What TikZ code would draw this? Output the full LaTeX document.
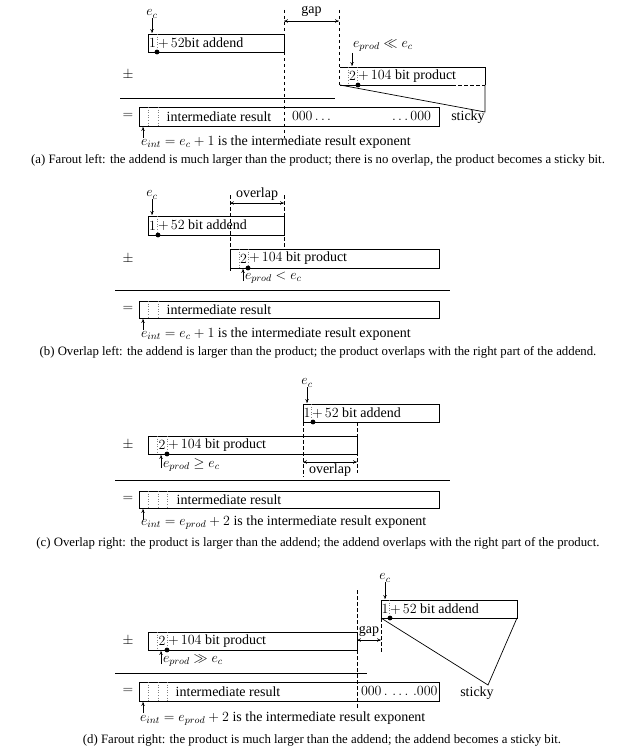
\RequirePackage{fix-cm}
\documentclass[tikz,border=0pt]{standalone}
\usepackage{fontspec}
\setmainfont{Liberation Serif}
\usetikzlibrary{arrows.meta}
\begin{document}
\begin{tikzpicture}[x=1pt,y=-1pt,
  box/.style={draw,line width=0.7pt},
  dsh/.style={line width=0.6pt,dash pattern=on 3.5pt off 2.5pt},
  dotl/.style={draw=gray,line width=0.6pt,dotted},
  arr/.style={-{To[length=4pt,width=3.5pt]},line width=0.6pt},
  dim/.style={{To[length=4pt,width=3.5pt]}-{To[length=4pt,width=3.5pt]},line width=0.6pt},
  txt/.style={inner sep=0pt,outer sep=0pt,font=\fontsize{14}{16}\selectfont},
  captxt/.style={inner sep=0pt,outer sep=0pt,font=\fontsize{12.8}{15}\selectfont},
  blob/.style={circle,fill=black,inner sep=0pt,minimum size=4.8pt},
  rule/.style={line width=0.8pt}]
\useasboundingbox (0,0) rectangle (637,754);

% ================= (a) =================
\coordinate (aA1) at (148,34); \coordinate (aA2) at (284,52);
\draw[box] (aA1) rectangle (aA2);
\draw[dotl] (157,34) -- (157,52);
\node[txt] at (152.5,43) {$1$};
\node[txt,anchor=west] at (158,43) {$+\,52$bit addend};
\node[blob] (adA) at (157,52) {};
\node[txt] (ecA) at (152,14) {$e_c$};
\coordinate (ecAt) at (152,33);
\draw[arr] (ecA) -- (ecAt);
% gap
\draw[dsh] (284,10) -- (284,138);
\draw[dsh] (339,10) -- (339,85);
\coordinate (gA1) at (284,21); \coordinate (gA2) at (339,21);
\draw[dim] (gA1) -- (gA2);
\node[txt] at (311.5,11) {gap};
% product
\draw[box] (340,67) -- (485,67) -- (485,85);
\draw[box] (340,85) -- (452,85);
\draw[dsh] (452,85) -- (485,85);
\draw[dotl] (348,67) -- (348,85);
\draw[dotl] (357,67) -- (357,85);
\node[txt] at (352.5,76) {$2$};
\node[txt,anchor=west] at (358,76) {$+\,104$ bit product};
\node[blob] (pdA) at (358,85) {};
\node[txt,anchor=west] (epA) at (353,46) {$e_{prod} \ll e_c$};
\coordinate (epAs) at (352,53); \coordinate (epAt) at (352,66);
\draw[arr] (epAs) -- (epAt);
\draw[box] (340,85) -- (485,112) -- (485,85);
\node[txt] at (128,75) {$\pm$};
\draw[rule] (120,98) -- (335,98);
% result
\draw[box] (139,107) rectangle (439,126);
\draw[dotl] (148,107) -- (148,126);
\draw[dotl] (158,107) -- (158,126);
\node[txt] at (128,116) {$=$};
\node[txt] at (219,116.5) {intermediate result};
\node[txt,anchor=west] at (292,116) {$000\ldots$};
\node[txt,anchor=east] at (431,116) {$\ldots000$};
\node[txt] at (468,117) {sticky};
\coordinate (riA) at (143,138); \coordinate (riAt) at (143,127);
\draw[arr] (riA) -- (riAt);
\node[txt,anchor=west] at (141,142) {$e_{int} = e_c + 1$ is the intermediate result exponent};
\node[captxt] at (318,160) {(a) Farout left: the addend is much larger than the product; there is no overlap, the product becomes a sticky bit.};

% ================= (b) =================
\draw[box] (148,216) rectangle (284,235);
\draw[dotl] (157,216) -- (157,235);
\node[txt] at (152.5,225.5) {$1$};
\node[txt,anchor=west] at (158,225.5) {$+\,52$ bit addend};
\node[blob] (adB) at (158,235) {};
\node[txt] (ecB) at (152,195) {$e_c$};
\coordinate (ecBt) at (152,215);
\draw[arr] (ecB) -- (ecBt);
\draw[dsh] (230,195) -- (230,272);
\draw[dsh] (284,195) -- (284,249);
\coordinate (oB1) at (230,203); \coordinate (oB2) at (284,203);
\draw[dim] (oB1) -- (oB2);
\node[txt] at (257,194) {overlap};
\draw[box] (230,249) rectangle (439,268);
\draw[dotl] (239,249) -- (239,268);
\draw[dotl] (248,249) -- (248,268);
\node[txt] at (243.5,258.5) {$2$};
\node[txt,anchor=west] at (249,258.5) {$+\,104$ bit product};
\node[blob] (pdB) at (248,268) {};
\coordinate (epBs) at (243,281); \coordinate (epBt) at (243,269);
\draw[arr] (epBs) -- (epBt);
\node[txt,anchor=west] at (245,278) {$e_{prod} < e_c$};
\node[txt] at (128,259) {$\pm$};
\draw[rule] (115,290) -- (450,290);
\draw[box] (139,301) rectangle (439,318);
\draw[dotl] (148,301) -- (148,318);
\draw[dotl] (158,301) -- (158,318);
\node[txt] at (128,309) {$=$};
\node[txt] at (219,309.5) {intermediate result};
\coordinate (riB) at (143,330); \coordinate (riBt) at (143,319);
\draw[arr] (riB) -- (riBt);
\node[txt,anchor=west] at (141,334) {$e_{int} = e_c + 1$ is the intermediate result exponent};
\node[captxt] at (318,352) {(b) Overlap left: the addend is larger than the product; the product overlaps with the right part of the addend.};

% ================= (c) =================
\draw[box] (303,404) rectangle (439,422);
\draw[dotl] (311,404) -- (311,422);
\node[txt] at (307,413) {$1$};
\node[txt,anchor=west] at (312,413) {$+\,52$ bit addend};
\node[blob] (adC) at (313,422) {};
\node[txt] (ecC) at (307,383) {$e_c$};
\coordinate (ecCt) at (307,403);
\draw[arr] (ecC) -- (ecCt);
\draw[dsh] (303,422) -- (303,477);
\draw[dsh] (357,422) -- (357,473);
\draw[box] (148,436) rectangle (357,454);
\draw[dotl] (157,436) -- (157,454);
\draw[dotl] (167,436) -- (167,454);
\node[txt] at (162,445) {$2$};
\node[txt,anchor=west] at (168,445) {$+\,104$ bit product};
\node[blob] (pdC) at (167,454) {};
\coordinate (epCs) at (161,468); \coordinate (epCt) at (161,455);
\draw[arr] (epCs) -- (epCt);
\node[txt,anchor=west] at (163,465) {$e_{prod} \geq e_c$};
\coordinate (oC1) at (303,462); \coordinate (oC2) at (357,462);
\draw[dim] (oC1) -- (oC2);
\node[txt] at (330,470) {overlap};
\node[txt] at (128,445) {$\pm$};
\draw[rule] (115,480) -- (450,480);
\draw[box] (139,491) rectangle (439,508);
\draw[dotl] (148,491) -- (148,508);
\draw[dotl] (158,491) -- (158,508);
\draw[dotl] (167,491) -- (167,508);
\node[txt] at (128,499) {$=$};
\node[txt] at (229,499.5) {intermediate result};
\coordinate (riC) at (143,520); \coordinate (riCt) at (143,509);
\draw[arr] (riC) -- (riCt);
\node[txt,anchor=west] at (141,523) {$e_{int} = e_{prod} + 2$ is the intermediate result exponent};
\node[captxt] at (318,543) {(c) Overlap right: the product is larger than the addend; the addend overlaps with the right part of the product.};

% ================= (d) =================
\draw[box] (381,600) rectangle (517,618);
\draw[dotl] (389,600) -- (389,618);
\node[txt] at (385,609) {$1$};
\node[txt,anchor=west] at (390,609) {$+\,52$ bit addend};
\node[blob] (adD) at (390,618) {};
\node[txt] (ecD) at (385,578) {$e_c$};
\coordinate (ecDt) at (385,599);
\draw[arr] (ecD) -- (ecDt);
\coordinate (tipD) at (488,685);
\draw[box] (381,618) -- (tipD) -- (517,618);
\draw[dsh] (381,618) -- (381,653);
\draw[dsh] (357,590) -- (357,708);
\coordinate (gD1) at (357,640); \coordinate (gD2) at (381,640);
\draw[dim] (gD1) -- (gD2);
\node[txt] at (369,631) {gap};
\draw[box] (148,632) rectangle (357,650);
\draw[dotl] (157,632) -- (157,650);
\draw[dotl] (167,632) -- (167,650);
\node[txt] at (162,641) {$2$};
\node[txt,anchor=west] at (168,641) {$+\,104$ bit product};
\node[blob] (pdD) at (167,650) {};
\coordinate (epDs) at (161,664); \coordinate (epDt) at (161,651);
\draw[arr] (epDs) -- (epDt);
\node[txt,anchor=west] at (163,661) {$e_{prod} \gg e_c$};
\node[txt] at (128,641) {$\pm$};
\draw[rule] (115,673) -- (367,673);
\draw[box] (139,682) rectangle (439,701);
\draw[dotl] (148,682) -- (148,701);
\draw[dotl] (158,682) -- (158,701);
\draw[dotl] (167,682) -- (167,701);
\node[txt] at (128,691) {$=$};
\node[txt] at (228,691.5) {intermediate result};
\node[txt,anchor=west] at (361,691) {$000\,.\,\ldots\,.000$};
\node[txt] at (477,693) {sticky};
\coordinate (riD) at (143,713); \coordinate (riDt) at (143,702);
\draw[arr] (riD) -- (riDt);
\node[txt,anchor=west] at (140,719) {$e_{int} = e_{prod} + 2$ is the intermediate result exponent};
\node[captxt] at (322,740) {(d) Farout right: the product is much larger than the addend; the addend becomes a sticky bit.};
\end{tikzpicture}
\end{document}
